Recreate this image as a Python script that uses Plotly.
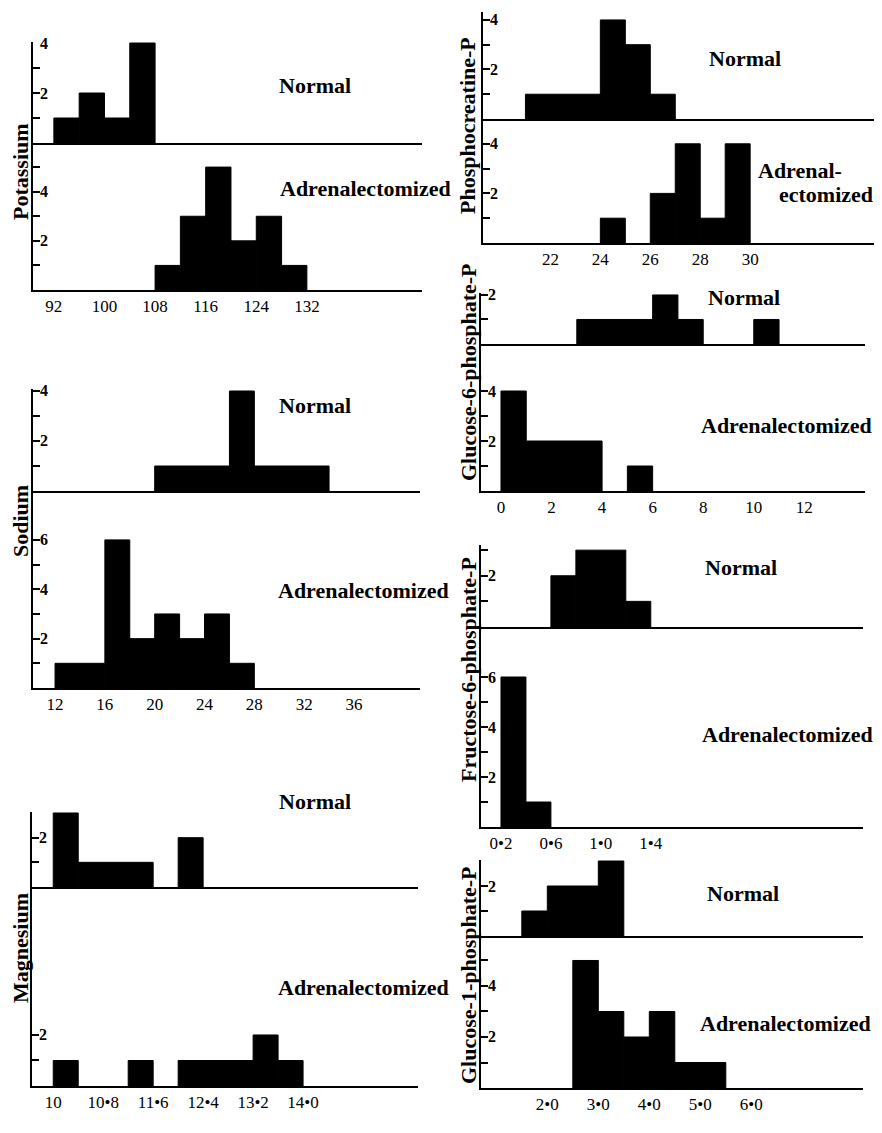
import plotly.graph_objects as go

BODY = 8  # default page margin of the html body
W, H = 882 - BODY, 1133 - 2 * BODY
SERIF = "Liberation Serif"

# ---------------- data (bin edges and counts) ----------------
potassium_ticks = [92, 100, 108, 116, 124, 132]
potassium_tick_labels = ["92", "100", "108", "116", "124", "132"]
potassium_normal_edges = [92, 96, 100, 104, 108]
potassium_normal_counts = [1, 2, 1, 4]
potassium_adx_edges = [108, 112, 116, 120, 124, 128, 132]
potassium_adx_counts = [1, 3, 5, 2, 3, 1]

sodium_ticks = [12, 16, 20, 24, 28, 32, 36]
sodium_tick_labels = ["12", "16", "20", "24", "28", "32", "36"]
sodium_normal_edges = [20, 26, 28, 34]
sodium_normal_counts = [1, 4, 1]
sodium_adx_edges = [12, 16, 18, 20, 22, 24, 26, 28]
sodium_adx_counts = [1, 6, 2, 3, 2, 3, 1]

magnesium_ticks = [10, 10.8, 11.6, 12.4, 13.2, 14.0]
magnesium_tick_labels = ["10", "10•8", "11•6", "12•4", "13•2", "14•0"]
magnesium_normal_edges = [10.0, 10.4, 11.6, 12.0, 12.4]
magnesium_normal_counts = [3, 1, 0, 2]
magnesium_adx_edges = [10.0, 10.4, 11.2, 11.6, 12.0, 13.2, 13.6, 14.0]
magnesium_adx_counts = [1, 0, 1, 0, 1, 2, 1]

pcr_ticks = [22, 24, 26, 28, 30]
pcr_tick_labels = ["22", "24", "26", "28", "30"]
pcr_normal_edges = [21, 24, 25, 26, 27]
pcr_normal_counts = [1, 4, 3, 1]
pcr_adx_edges = [24, 25, 26, 27, 28, 29, 30]
pcr_adx_counts = [1, 0, 2, 4, 1, 4]

g6p_ticks = [0, 2, 4, 6, 8, 10, 12]
g6p_tick_labels = ["0", "2", "4", "6", "8", "10", "12"]
g6p_normal_edges = [3, 6, 7, 8, 10, 11]
g6p_normal_counts = [1, 2, 1, 0, 1]
g6p_adx_edges = [0, 1, 4, 5, 6]
g6p_adx_counts = [4, 2, 0, 1]

f6p_ticks = [0.2, 0.6, 1.0, 1.4]
f6p_tick_labels = ["0•2", "0•6", "1•0", "1•4"]
f6p_normal_edges = [0.6, 0.8, 1.2, 1.4]
f6p_normal_counts = [2, 3, 1]
f6p_adx_edges = [0.2, 0.4, 0.6]
f6p_adx_counts = [6, 1]

g1p_ticks = [2, 3, 4, 5, 6]
g1p_tick_labels = ["2•0", "3•0", "4•0", "5•0", "6•0"]
g1p_normal_edges = [1.5, 2.0, 3.0, 3.5]
g1p_normal_counts = [1, 2, 3]
g1p_adx_edges = [2.5, 3.0, 3.5, 4.0, 4.5, 5.5]
g1p_adx_counts = [5, 3, 2, 3, 1]

# ---------------- layout geometry (pixels in the page) ----------------
panels = [
    dict(title="Potassium", ticks=potassium_ticks, labels=potassium_tick_labels,
         n_edges=potassium_normal_edges, n_counts=potassium_normal_counts,
         a_edges=potassium_adx_edges, a_counts=potassium_adx_counts,
         x0=33, x1=422, xr=[88.7, 150.2], top=42, mid=143, bot=290,
         nr=4.04, ar=5.98, nt=[1, 2, 3, 4], at=[1, 2, 3, 4, 5],
         title_xy=(20, 172), normal_xy=(315, 86),
         adx=[("Adrenalectomized", 365, 188)]),
    dict(title="Sodium", ticks=sodium_ticks, labels=sodium_tick_labels,
         n_edges=sodium_normal_edges, n_counts=sodium_normal_counts,
         a_edges=sodium_adx_edges, a_counts=sodium_adx_counts,
         x0=33, x1=420, xr=[10.23, 41.3], top=389, mid=491, bot=688,
         nr=4.08, ar=7.98, nt=[1, 2, 3, 4], at=[1, 2, 3, 4, 5, 6],
         title_xy=(20, 521), normal_xy=(315, 405),
         adx=[("Adrenalectomized", 363, 590)]),
    dict(title="Magnesium", ticks=magnesium_ticks, labels=magnesium_tick_labels,
         n_edges=magnesium_normal_edges, n_counts=magnesium_normal_counts,
         a_edges=magnesium_adx_edges, a_counts=magnesium_adx_counts,
         x0=32, x1=418, xr=[9.66, 15.84], top=812, mid=887, bot=1086,
         nr=3.04, ar=7.8, nt=[1, 2, 3], at=[1, 2],
         title_xy=(20, 948), normal_xy=(315, 801),
         adx=[("Adrenalectomized", 363, 987)]),
    dict(title="Phosphocreatine-P", ticks=pcr_ticks, labels=pcr_tick_labels,
         n_edges=pcr_normal_edges, n_counts=pcr_normal_counts,
         a_edges=pcr_adx_edges, a_counts=pcr_adx_counts,
         x0=483, x1=880, xr=[19.3, 35.2], top=12, mid=119, bot=243,
         nr=4.32, ar=5.0, nt=[1, 2, 3, 4], at=[1, 2, 3, 4],
         title_xy=(468, 126), normal_xy=(745, 58),
         adx=[("Adrenal-", 800, 170), ("ectomized", 826, 195)]),
    dict(title="Glucose-6-phosphate-P", ticks=g6p_ticks, labels=g6p_tick_labels,
         n_edges=g6p_normal_edges, n_counts=g6p_normal_counts,
         a_edges=g6p_adx_edges, a_counts=g6p_adx_counts,
         x0=481, x1=865, xr=[-0.79, 14.4], top=293, mid=344, bot=491,
         nr=2.08, ar=5.88, nt=[1, 2], at=[1, 2, 3, 4],
         title_xy=(468, 372), normal_xy=(744, 297),
         adx=[("Adrenalectomized", 786, 425)]),
    dict(title="Fructose-6-phosphate-P", ticks=f6p_ticks, labels=f6p_tick_labels,
         n_edges=f6p_normal_edges, n_counts=f6p_normal_counts,
         a_edges=f6p_adx_edges, a_counts=f6p_adx_counts,
         x0=481, x1=863, xr=[0.04, 3.1], top=545, mid=627, bot=827,
         nr=3.2, ar=8.0, nt=[1, 2, 3], at=[1, 2, 3, 4, 5, 6],
         title_xy=(468, 670), normal_xy=(741, 567),
         adx=[("Adrenalectomized", 787, 734)]),
    dict(title="Glucose-1-phosphate-P", ticks=g1p_ticks, labels=g1p_tick_labels,
         n_edges=g1p_normal_edges, n_counts=g1p_normal_counts,
         a_edges=g1p_adx_edges, a_counts=g1p_adx_counts,
         x0=481, x1=863, xr=[0.70, 8.19], top=860, mid=936, bot=1088,
         nr=3.04, ar=5.96, nt=[1, 2, 3], at=[1, 2, 3, 4, 5],
         title_xy=(468, 975), normal_xy=(743, 893),
         adx=[("Adrenalectomized", 785, 1023)]),
]


def fx(px):
    return (px - BODY) / W


def fy(py):
    return 1 - (py - BODY) / H


def bars(edges, counts):
    """Histogram bins with a non-zero count -> bar centres, widths and heights."""
    cs, ws, vs = [], [], []
    for a, b, n in zip(edges[:-1], edges[1:], counts):
        if n > 0:
            cs.append((a + b) / 2)
            ws.append(b - a)
            vs.append(n)
    return cs, ws, vs


def axname(letter, n):
    return letter if n == 1 else f"{letter}{n}"


fig = go.Figure()
layout = dict(width=W, height=H, margin=dict(l=0, r=0, t=0, b=0), autosize=False,
              paper_bgcolor="white", plot_bgcolor="rgba(0,0,0,0)", barmode="overlay",
              showlegend=False, font=dict(family=SERIF, color="black"))
annotations = []

tickfont_y = dict(family=SERIF, size=16, color="black", weight="bold")
tickfont_x = dict(family=SERIF, size=17, color="black")
labfont = dict(family=SERIF, size=22, color="black", weight="bold")
bar_marker = dict(color="black", line=dict(color="black", width=1))

for i, p in enumerate(panels):
    ia = 2 * i + 1  # adrenalectomized axes
    inn = 2 * i + 2  # normal axes
    xa, ya = axname("x", ia), axname("y", ia)
    xn, yn = axname("x", inn), axname("y", inn)
    ka = "" if ia == 1 else str(ia)

    c, w, v = bars(p["a_edges"], p["a_counts"])
    fig.add_trace(go.Bar(x=c, y=v, width=w, xaxis=xa, yaxis=ya, marker=bar_marker))
    c, w, v = bars(p["n_edges"], p["n_counts"])
    fig.add_trace(go.Bar(x=c, y=v, width=w, xaxis=xn, yaxis=yn, marker=bar_marker))

    common_x = dict(domain=[fx(p["x0"]), min(1.0, fx(p["x1"]))], range=p["xr"], showgrid=False,
                    zeroline=False, showline=True, linecolor="black", linewidth=2,
                    ticks="", fixedrange=True)
    layout["xaxis" + ka] = dict(common_x, anchor=ya, tickmode="array", tickvals=p["ticks"],
                                ticktext=p["labels"], tickfont=tickfont_x)
    layout[f"xaxis{inn}"] = dict(common_x, anchor=yn, showticklabels=False)

    common_y = dict(showgrid=False, zeroline=False, showline=True, linecolor="black",
                    linewidth=2, ticks="inside", ticklen=7, tickwidth=2, tickcolor="black",
                    showticklabels=False, fixedrange=True, tickmode="array")
    layout["yaxis" + ka] = dict(common_y, anchor=xa, domain=[fy(p["bot"]), fy(p["mid"])],
                                range=[0, p["ar"]], tickvals=p["at"])
    layout[f"yaxis{inn}"] = dict(common_y, anchor=xn, domain=[fy(p["mid"]), fy(p["top"])],
                                 range=[0, p["nr"]], tickvals=p["nt"])

    # y tick labels (even counts) just right of the inside ticks
    for xax, yax, tv in ((xa, ya, p["at"]), (xn, yn, p["nt"])):
        for t in tv:
            if t % 2 == 0:
                annotations.append(dict(text=str(t), xref=f"{xax} domain", x=0, yref=yax, y=t,
                                        xanchor="left", yanchor="middle", xshift=5,
                                        showarrow=False, font=tickfont_y))

    tx, ty = p["title_xy"]
    annotations.append(dict(text=p["title"], x=fx(tx), y=fy(ty), xref="paper", yref="paper",
                            textangle=-90, showarrow=False, xanchor="center", yanchor="middle",
                            font=labfont))
    nx, ny = p["normal_xy"]
    annotations.append(dict(text="Normal", x=fx(nx), y=fy(ny), xref="paper", yref="paper",
                            showarrow=False, xanchor="center", yanchor="middle", font=labfont))
    for txt, ax_, ay_ in p["adx"]:
        annotations.append(dict(text=txt, x=fx(ax_), y=fy(ay_), xref="paper", yref="paper",
                                showarrow=False, xanchor="center", yanchor="middle",
                                font=labfont))

layout["annotations"] = annotations
fig.update_layout(**layout)
fig.write_html("out.html")
